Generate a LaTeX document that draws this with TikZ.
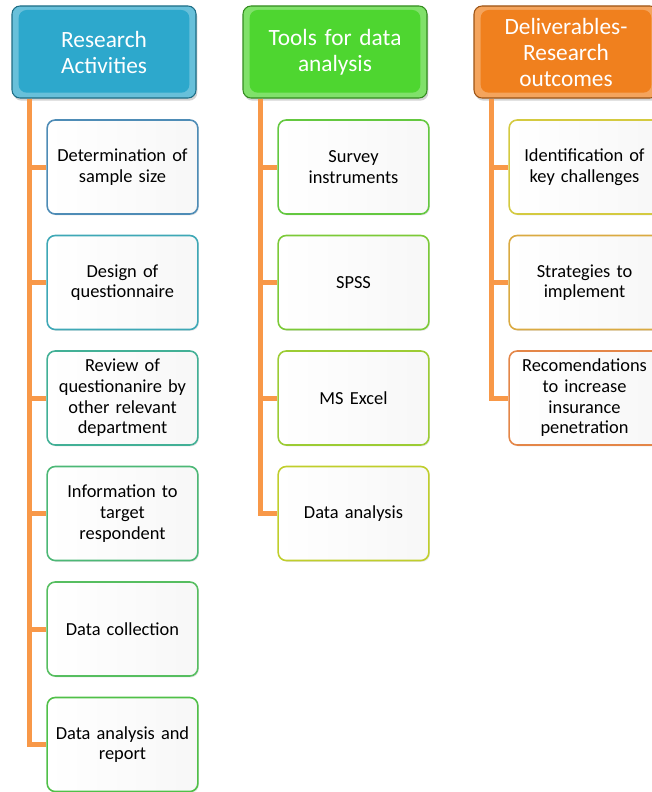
\documentclass[tikz,border=0pt]{standalone}
\usepackage{fontspec}
\setmainfont{Carlito}
\usetikzlibrary{trees,shadows}

\definecolor{actblue}{RGB}{45,168,204}
\definecolor{toolgreen}{RGB}{78,214,48}
\definecolor{delorange}{RGB}{240,128,30}
\definecolor{linkorange}{RGB}{248,152,72}
% box borders
\definecolor{actA}{RGB}{78,140,182}
\definecolor{actB}{RGB}{62,168,182}
\definecolor{actC}{RGB}{66,176,150}
\definecolor{actD}{RGB}{76,184,118}
\definecolor{actE}{RGB}{86,190,96}
\definecolor{actF}{RGB}{80,192,72}
\definecolor{toolA}{RGB}{100,200,64}
\definecolor{toolB}{RGB}{124,202,56}
\definecolor{toolC}{RGB}{156,204,52}
\definecolor{toolD}{RGB}{192,206,44}
\definecolor{delA}{RGB}{212,202,64}
\definecolor{delB}{RGB}{218,170,66}
\definecolor{delC}{RGB}{228,134,72}

\tikzset{
	headbox/.style={rectangle,rounded corners=6pt,minimum width=138pt,minimum height=69pt,
		text width=130pt,align=center,text=white,font=\fontsize{17.5}{19.5}\selectfont,
		fill=#1!72!white,draw=#1!65!black,line width=0.8pt,
		drop shadow={opacity=0.35,shadow xshift=1pt,shadow yshift=-2pt},
		path picture={\fill[#1] ([shift={(5pt,4pt)}]path picture bounding box.south west)
			rectangle ([shift={(-5pt,-3pt)}]path picture bounding box.north east);}},
	leafbox/.style={rectangle,rounded corners=6pt,minimum width=113pt,minimum height=70.5pt,
		text width=105pt,align=center,font=\fontsize{13.8}{15.5}\selectfont,
		left color=white,right color=black!3,draw=#1,line width=1.2pt,
		drop shadow={opacity=0.2,shadow xshift=0.8pt,shadow yshift=-1pt}}
}

\begin{document}
\begin{tikzpicture}[x=0.75pt,y=0.75pt,
		level 1/.style={grow via three points={one child at (18.5,-115) and two children at (18.5,-115) and (18.5,-230.5)}},
		edge from parent/.style={draw=linkorange,line width=3.75pt},
		edge from parent path={([xshift=13.5pt]\tikzparentnode.south west) |- (\tikzchildnode.west)}]
	\clip (0,0) rectangle (652,-792);
	% activities
	\node[headbox=actblue] (act) at (104,-52) {Research\\Activities}
		child{node[leafbox=actA] (act1) {Determination of\\sample size}}
		child{node[leafbox=actB] (act2) {Design of\\questionnaire}}
		child{node[leafbox=actC] (act3) {Review of\\questionanire by\\other relevant\\department}}
		child{node[leafbox=actD] (act4) {Information to\\target\\respondent}}
		child{node[leafbox=actE] (act5) {Data collection}}
		child{node[leafbox=actF] (act6) {Data analysis and\\report}}
	;
	% tools
	\node[headbox=toolgreen] (tool) at (335,-52) {Tools for data\\analysis}
		child{node[leafbox=toolA] (tool1) {Survey\\instruments}}
		child{node[leafbox=toolB] (tool2) {SPSS}}
		child{node[leafbox=toolC] (tool3) {MS Excel}}
		child{node[leafbox=toolD] (tool4) {Data analysis}}
	;
	% deliverables
	\node[headbox=delorange] (del) at (566,-52) {Deliverables-\\Research\\outcomes}
		child{node[leafbox=delA] (del1) {Identification of\\key challenges}}
		child{node[leafbox=delB] (del2) {Strategies to\\implement}}
		child{node[leafbox=delC] (del3) {Recomendations\\to increase\\insurance\\penetration}}
	;
\end{tikzpicture}
\end{document}
